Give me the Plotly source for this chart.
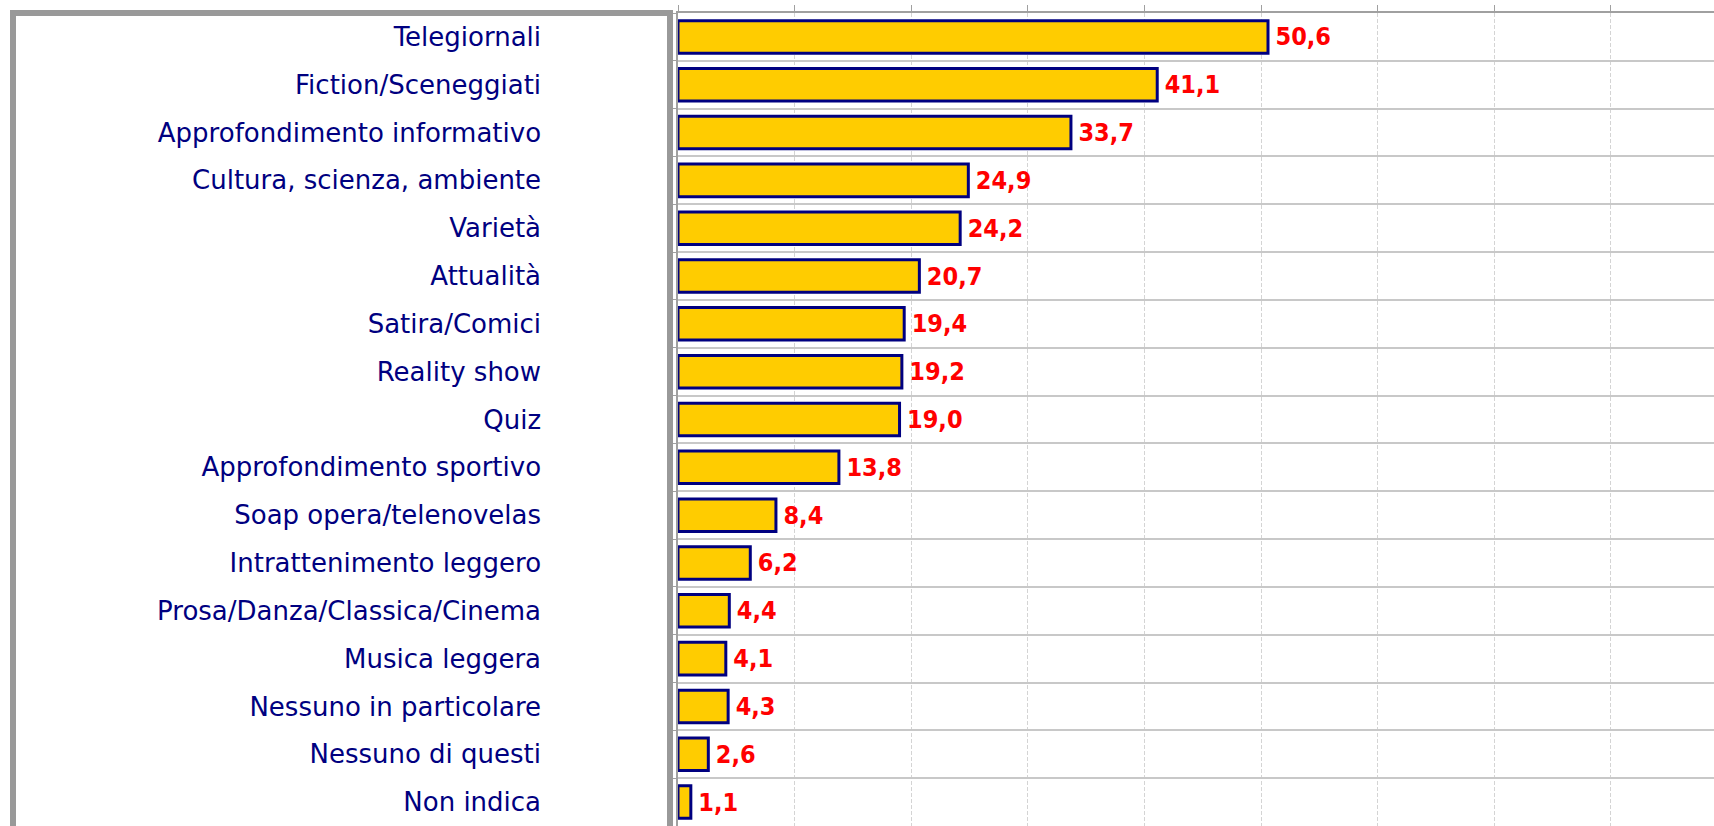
import plotly.graph_objects as go

categories = [
    "Telegiornali",
    "Fiction/Sceneggiati",
    "Approfondimento informativo",
    "Cultura, scienza, ambiente",
    "Varietà",
    "Attualità",
    "Satira/Comici",
    "Reality show",
    "Quiz",
    "Approfondimento sportivo",
    "Soap opera/telenovelas",
    "Intrattenimento leggero",
    "Prosa/Danza/Classica/Cinema",
    "Musica leggera",
    "Nessuno in particolare",
    "Nessuno di questi",
    "Non indica",
]
values = [50.6, 41.1, 33.7, 24.9, 24.2, 20.7, 19.4, 19.2, 19.0, 13.8,
          8.4, 6.2, 4.4, 4.1, 4.3, 2.6, 1.1]

W, H = 1714, 826
ML, MT = 678, 13
plot_w = W - ML
plot_h = H - MT

fig = go.Figure(
    go.Bar(
        y=categories,
        x=values,
        orientation="h",
        marker=dict(color="#FFCC00", line=dict(color="#000080", width=3)),
        texttemplate="\u2009%{x:.1f}",
        textposition="outside",
        textfont=dict(family="DejaVu Sans Condensed, Roboto Condensed, Liberation Sans",
                      size=25, color="#FF0000", weight="bold"),
        cliponaxis=False,
        hoverinfo="skip",
    )
)

# grey frame around the label area (paper coordinates)
fig.add_shape(
    type="path",
    xref="paper", yref="paper",
    path=f"M {(670-ML)/plot_w} -0.05 L {(670-ML)/plot_w} 1 L {(13-ML)/plot_w} 1 L {(13-ML)/plot_w} -0.05",
    line=dict(color="#999999", width=6),
    layer="above",
)

fig.update_layout(
    width=W, height=H,
    margin=dict(l=ML, r=0, t=MT, b=0, pad=0),
    paper_bgcolor="white", plot_bgcolor="white",
    separators=",.",
    showlegend=False,
    bargap=0.32,
    xaxis=dict(
        side="top",
        range=[0, plot_w / 11.66],
        dtick=10, tick0=0,
        showticklabels=False,
        ticks="outside", ticklen=6, tickcolor="#a0a0a0", tickwidth=1,
        showline=True, linecolor="#a0a0a0", linewidth=1.5,
        showgrid=True, gridcolor="#d4d4d4", gridwidth=1, griddash="4px,2px",
        zeroline=False,
        fixedrange=True,
    ),
    yaxis=dict(
        type="category",
        range=[len(categories) - 0.5, -0.5],
        tickson="boundaries",
        ticks="outside", ticklen=3, tickcolor="#a0a0a0",
        showline=True, linecolor="#a0a0a0", linewidth=1.5,
        showgrid=True, gridcolor="#c8c8c8", gridwidth=1.5,
        tickfont=dict(family="DejaVu Sans", size=26, color="#000080"),
        ticklabelstandoff=130,
        fixedrange=True,
    ),
)

fig.write_html(
    "out.html",
    config={"displayModeBar": False},
    post_script="document.body.style.margin='0';document.body.style.overflow='hidden';",
)
